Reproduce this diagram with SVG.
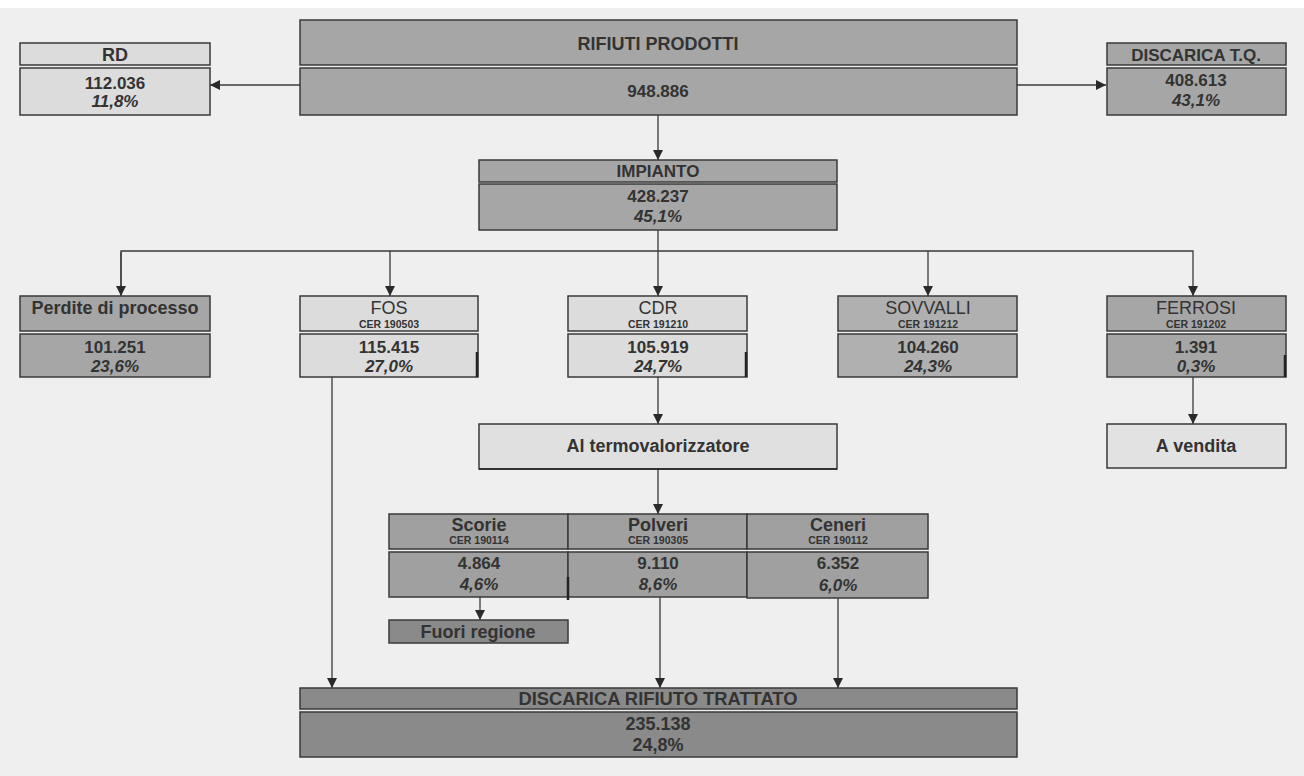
<svg xmlns="http://www.w3.org/2000/svg" width="1304" height="776" viewBox="0 0 1304 776">
<style>
.bx{stroke:#3a3a3a;stroke-width:1.5}
.c{stroke:#3a3a3a;stroke-width:1.3;fill:none}
.t{font-family:"Liberation Sans",Arial,sans-serif;font-weight:bold;fill:#333;text-anchor:middle;font-size:17px}
.h{font-size:18px}
.r{font-weight:normal;font-size:18px}
.p{font-style:italic}
.s{font-size:10.5px;font-weight:bold}
.mk{stroke:#222;stroke-width:2.5}
.l1{fill:#dcdcdc}.d1{fill:#a6a6a6}.d2{fill:#b0b0b0}.d3{fill:#a0a0a0}.d4{fill:#8a8a8a}
</style>
<defs>
<marker id="ah" viewBox="0 0 10 10" refX="10" refY="5" markerWidth="10" markerHeight="10" markerUnits="userSpaceOnUse" orient="auto">
<path d="M0,0 L10,5 L0,10 z" fill="#2a2a2a"/>
</marker>
</defs>
<rect width="1304" height="776" fill="#efefef"/>
<rect width="1304" height="8" fill="#ffffff"/>

<g id="connectors">
<line class="c" x1="300" y1="85" x2="210" y2="85" marker-end="url(#ah)"/>
<line class="c" x1="1017" y1="85" x2="1106" y2="85" marker-end="url(#ah)"/>
<line class="c" x1="658" y1="115" x2="658" y2="160" marker-end="url(#ah)"/>
<line class="c" x1="658" y1="230" x2="658" y2="251"/>
<polyline class="c" points="121,296 121,251 1193,251 1193,296" marker-end="url(#ah)"/>
<line class="c" x1="121" y1="252" x2="121" y2="296" marker-end="url(#ah)"/>
<line class="c" x1="390" y1="251" x2="390" y2="296" marker-end="url(#ah)"/>
<line class="c" x1="658" y1="251" x2="658" y2="296" marker-end="url(#ah)"/>
<line class="c" x1="928" y1="251" x2="928" y2="296" marker-end="url(#ah)"/>
<line class="c" x1="1193" y1="377" x2="1193" y2="424" marker-end="url(#ah)"/>
<line class="c" x1="658" y1="377" x2="658" y2="424" marker-end="url(#ah)"/>
<line class="c" x1="658" y1="468" x2="658" y2="514" marker-end="url(#ah)"/>
<line class="c" x1="480" y1="597" x2="480" y2="620" marker-end="url(#ah)"/>
<line class="c" x1="332" y1="377" x2="332" y2="688" marker-end="url(#ah)"/>
<line class="c" x1="660" y1="597" x2="660" y2="688" marker-end="url(#ah)"/>
<line class="c" x1="838" y1="598" x2="838" y2="688" marker-end="url(#ah)"/>
</g>

<g id="rd">
<rect class="bx l1" x="20" y="43" width="190" height="22"/>
<rect class="bx l1" x="20" y="68" width="190" height="47"/>
<text class="t h" x="115" y="61">RD</text>
<text class="t" x="115" y="89">112.036</text>
<text class="t p" x="115" y="107">11,8%</text>
</g>

<g id="rifiuti-prodotti">
<rect class="bx d1" x="300" y="20" width="717" height="45"/>
<rect class="bx d1" x="300" y="68" width="717" height="47"/>
<text class="t h" x="658" y="50">RIFIUTI PRODOTTI</text>
<text class="t" x="658" y="97">948.886</text>
</g>

<g id="discarica-tq">
<rect class="bx d1" x="1107" y="43" width="179" height="22"/>
<rect class="bx d1" x="1107" y="68" width="179" height="47"/>
<text class="t" x="1196" y="61">DISCARICA T.Q.</text>
<text class="t" x="1196" y="86">408.613</text>
<text class="t p" x="1196" y="106">43,1%</text>
</g>

<g id="impianto">
<rect class="bx d1" x="479" y="160" width="358" height="22"/>
<rect class="bx d1" x="479" y="184" width="358" height="46"/>
<text class="t" x="658" y="177">IMPIANTO</text>
<text class="t" x="658" y="202">428.237</text>
<text class="t p" x="658" y="222">45,1%</text>
</g>

<g id="perdite">
<rect class="bx d1" x="20" y="296" width="190" height="35"/>
<rect class="bx d1" x="20" y="334" width="190" height="43"/>
<text class="t h" x="115" y="314">Perdite di processo</text>
<text class="t" x="115" y="353">101.251</text>
<text class="t p" x="115" y="372">23,6%</text>
</g>

<g id="fos">
<rect class="bx l1" x="300" y="296" width="178" height="35"/>
<rect class="bx l1" x="300" y="334" width="178" height="43"/>
<line class="mk" x1="477" y1="352" x2="477" y2="377"/>
<text class="t r" x="389" y="314">FOS</text>
<text class="t s" x="389" y="328">CER 190503</text>
<text class="t" x="389" y="353">115.415</text>
<text class="t p" x="389" y="372">27,0%</text>
</g>

<g id="cdr">
<rect class="bx l1" x="568" y="296" width="179" height="35"/>
<rect class="bx l1" x="568" y="334" width="179" height="43"/>
<line class="mk" x1="746" y1="352" x2="746" y2="377"/>
<text class="t r" x="658" y="314">CDR</text>
<text class="t s" x="658" y="328">CER 191210</text>
<text class="t" x="658" y="353">105.919</text>
<text class="t p" x="658" y="372">24,7%</text>
</g>

<g id="sovvalli">
<rect class="bx d2" x="838" y="296" width="179" height="35"/>
<rect class="bx d2" x="838" y="334" width="179" height="43"/>
<text class="t r" x="928" y="314">SOVVALLI</text>
<text class="t s" x="928" y="328">CER 191212</text>
<text class="t" x="928" y="353">104.260</text>
<text class="t p" x="928" y="372">24,3%</text>
</g>

<g id="ferrosi">
<rect class="bx d1" x="1107" y="296" width="179" height="35"/>
<rect class="bx d1" x="1107" y="334" width="179" height="43"/>
<line class="mk" x1="1285" y1="355" x2="1285" y2="377"/>
<text class="t r" x="1196" y="314">FERROSI</text>
<text class="t s" x="1196" y="328">CER 191202</text>
<text class="t" x="1196" y="353">1.391</text>
<text class="t p" x="1196" y="372">0,3%</text>
</g>

<g id="a-vendita">
<rect class="bx" fill="#e2e2e2" x="1107" y="424" width="179" height="44"/>
<text class="t h" x="1196" y="452">A vendita</text>
</g>

<g id="termovalorizzatore">
<rect class="bx" fill="#e0e0e0" x="479" y="424" width="358" height="45"/>
<line class="mk" x1="479" y1="469" x2="837" y2="469" style="stroke-width:1.5"/>
<text class="t h" x="658" y="452">Al termovalorizzatore</text>
</g>

<g id="scorie">
<rect class="bx d3" x="389" y="514" width="179" height="35"/>
<rect class="bx d3" x="389" y="552" width="179" height="45"/>
<text class="t h" x="479" y="531">Scorie</text>
<text class="t s" x="479" y="544">CER 190114</text>
<text class="t" x="479" y="569">4.864</text>
<text class="t p" x="479" y="590">4,6%</text>
</g>

<g id="polveri">
<rect class="bx d3" x="568" y="514" width="179" height="35"/>
<rect class="bx d3" x="568" y="552" width="179" height="45"/>
<line class="mk" x1="568" y1="577" x2="568" y2="600"/>
<text class="t h" x="658" y="531">Polveri</text>
<text class="t s" x="658" y="544">CER 190305</text>
<text class="t" x="658" y="569">9.110</text>
<text class="t p" x="658" y="590">8,6%</text>
</g>

<g id="ceneri">
<rect class="bx d3" x="747" y="514" width="181" height="35"/>
<rect class="bx d3" x="747" y="552" width="181" height="46"/>
<text class="t h" x="838" y="531">Ceneri</text>
<text class="t s" x="838" y="544">CER 190112</text>
<text class="t" x="838" y="569">6.352</text>
<text class="t p" x="838" y="591">6,0%</text>
</g>

<g id="fuori-regione">
<rect class="bx d4" x="389" y="620" width="179" height="23"/>
<text class="t h" x="478" y="638">Fuori regione</text>
</g>

<g id="discarica-rifiuto-trattato">
<rect class="bx d4" x="300" y="688" width="717" height="21"/>
<rect class="bx d4" x="300" y="712" width="717" height="45"/>
<text class="t h" x="658" y="705" textLength="279" lengthAdjust="spacingAndGlyphs">DISCARICA RIFIUTO TRATTATO</text>
<text class="t h" x="658" y="730">235.138</text>
<text class="t h" x="658" y="751">24,8%</text>
</g>
</svg>
